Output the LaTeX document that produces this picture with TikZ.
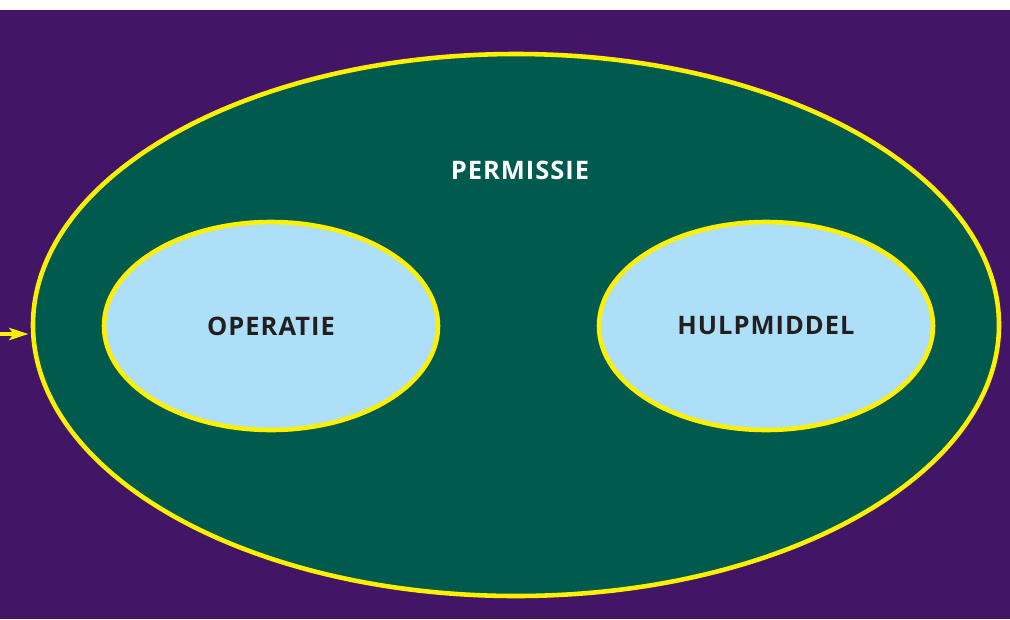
\documentclass[tikz,border=0pt]{standalone}
\usepackage{fontspec}
\setsansfont[LetterSpace=4]{Open Sans}
\usetikzlibrary{shapes.geometric,arrows.meta}
\definecolor{paars}{HTML}{431566}
\definecolor{groen}{HTML}{005A4E}
\definecolor{lichtblauw}{HTML}{ADE0F8}
\definecolor{geel}{HTML}{FFF000}
\definecolor{inkt}{HTML}{231F20}
\begin{document}
\begin{tikzpicture}[x=0.02cm,y=-0.02cm,
    rand/.style={draw=geel,line width=2.6pt},
    groot/.style={ellipse,rand,fill=groen,inner sep=0pt,minimum width=966*0.02cm,minimum height=542*0.02cm},
    klein/.style={ellipse,rand,fill=lichtblauw,inner sep=0pt,minimum width=334*0.02cm,minimum height=208*0.02cm,
      font=\sffamily\bfseries\fontsize{14.5}{17}\selectfont,text=inkt},
    kop/.style={font=\sffamily\bfseries\fontsize{14.5}{17}\selectfont,text=white}]
    \useasboundingbox (0,0) rectangle (1010,619);
    \fill[paars] (0,10) rectangle (1010,619);
    % grote ellips met de twee kleine erin
    \node[groot] (permissie) at (516,325) {};
    \node[kop] (titel) at (520,170) {PERMISSIE};
    \node[klein] (operatie) at (271,326) {OPERATIE};
    \node[klein] (hulpmiddel) at (766,326) {HULPMIDDEL};
    \coordinate (bron) at (0,334);
    \draw[geel,line width=1.9pt,-{Stealth[length=11pt,width=7pt,inset=2.5pt]}] (bron) -- ([xshift=-1.3pt]bron -| permissie.west);
\end{tikzpicture}
\end{document}
